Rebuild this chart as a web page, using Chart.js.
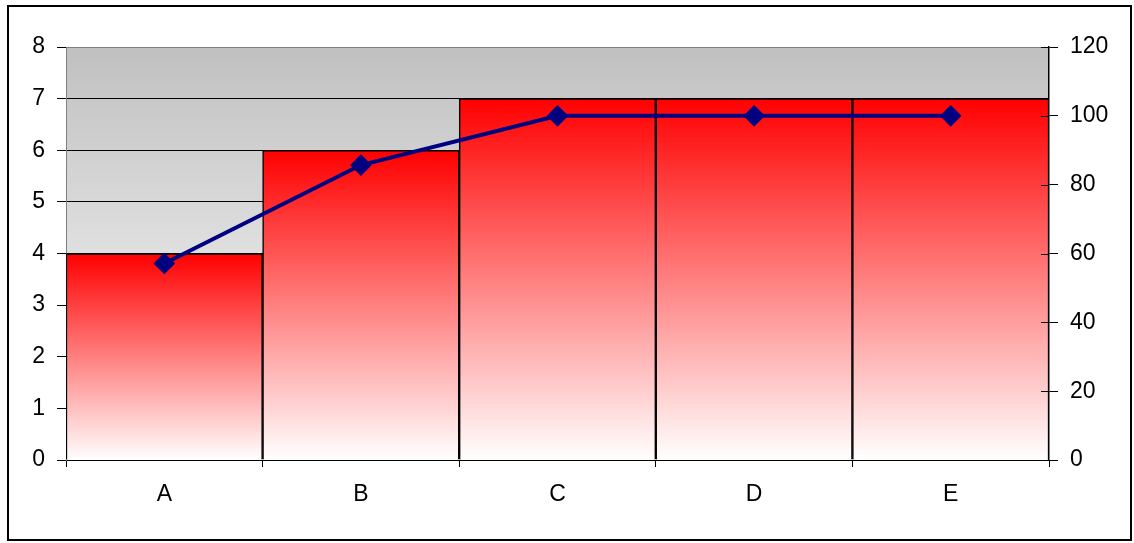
<!DOCTYPE html>
<html>
<head>
<meta charset="utf-8">
<script src="https://cdn.jsdelivr.net/npm/chart.js@4.4.1/dist/chart.umd.min.js"></script>
<style>
  html, body { margin: 0; padding: 0; background: #fff; }
  #wrap { width: 1134px; height: 543px; }
</style>
</head>
<body>
<div id="wrap"><canvas id="js-chart-pareto" width="1134" height="543"></canvas></div>
<script>
// Chart data
const categories = ['A', 'B', 'C', 'D', 'E'];
const barValues = [4, 6, 7, 7, 7];
const lineValues = [57.1, 85.7, 100, 100, 100];
const leftTicks = [0, 1, 2, 3, 4, 5, 6, 7, 8];
const rightTicks = [0, 20, 40, 60, 80, 100, 120];

Chart.defaults.font.family = '"Liberation Sans", Arial, sans-serif';
Chart.defaults.font.size = 23;
Chart.defaults.color = '#000';

// background, plot gradient and outer frame
const frameBackground = {
  id: 'frameBackground',
  beforeDraw(chart) {
    const ctx = chart.ctx;
    const a = chart.chartArea;
    ctx.save();
    ctx.fillStyle = '#fff';
    ctx.fillRect(0, 0, chart.width, chart.height);
    let g = ctx.createLinearGradient(0, a.top, 0, a.bottom);
    g.addColorStop(0, '#c0c0c0');
    g.addColorStop(1, '#ffffff');
    ctx.fillStyle = g;
    ctx.fillRect(a.left, a.top, a.right - a.left, a.bottom - a.top);
    ctx.strokeStyle = '#000';
    ctx.lineWidth = 2;
    ctx.strokeRect(8, 6, 1123, 534);
    ctx.restore();
  },
  afterDatasetsDraw(chart) {
    // inner half of the right axis tick marks
    const ctx = chart.ctx;
    const y1 = chart.scales.y1;
    const a = chart.chartArea;
    ctx.save();
    ctx.strokeStyle = '#000';
    ctx.lineWidth = 1;
    y1.ticks.forEach(t => {
      let py = Math.round(y1.getPixelForValue(t.value)) + 0.5;
      ctx.beginPath();
      ctx.moveTo(a.right - 8, py);
      ctx.lineTo(a.right, py);
      ctx.stroke();
    });
    ctx.restore();
  }
};

function barGradient(context) {
  const chart = context.chart;
  if (!chart.chartArea) return '#ff0000';
  const y = chart.scales.y;
  const top = y.getPixelForValue(context.raw);
  const bottom = y.getPixelForValue(0);
  let g = chart.ctx.createLinearGradient(0, top, 0, bottom);
  g.addColorStop(0, '#ff0000');
  g.addColorStop(1, '#ffffff');
  return g;
}

let chartData = {
  labels: categories,
  datasets: [
    {
      type: 'line',
      label: 'Cumulative %',
      yAxisID: 'y1',
      order: 0,
      data: lineValues,
      borderColor: '#000080',
      backgroundColor: '#000080',
      borderWidth: 4,
      pointStyle: 'rectRot',
      pointRadius: 8,
      pointBackgroundColor: '#000080',
      pointBorderColor: '#000080',
      tension: 0
    },
    {
      type: 'bar',
      label: 'Count',
      yAxisID: 'y',
      order: 1,
      data: barValues,
      backgroundColor: barGradient,
      borderColor: '#000',
      borderWidth: 1.5,
      categoryPercentage: 1,
      barPercentage: 1
    }
  ]
};

let chartOptions = {
  responsive: false,
  animation: false,
  layout: { padding: { top: 47, left: 0, right: 0, bottom: 0 } },
  plugins: {
    legend: { display: false },
    tooltip: { enabled: false }
  },
  scales: {
    x: {
      offset: true,
      grid: { offset: true, drawOnChartArea: false, color: '#000', tickLength: 7 },
      border: { color: '#000', width: 1 },
      ticks: { padding: 14 },
      afterFit(scale) { scale.height = 83; }
    },
    y: {
      position: 'left',
      min: 0,
      max: 8,
      afterBuildTicks(scale) { scale.ticks = leftTicks.map(v => ({ value: v })); },
      grid: {
        color: ctx => (ctx.tick && ctx.tick.value === 8 ? '#808080' : '#000'),
        tickColor: '#000',
        tickLength: 9
      },
      border: { color: '#808080', width: 1 },
      ticks: { padding: 12 },
      afterFit(scale) { scale.width = 66; }
    },
    y1: {
      position: 'right',
      min: 0,
      max: 120,
      afterBuildTicks(scale) { scale.ticks = rightTicks.map(v => ({ value: v })); },
      grid: { drawOnChartArea: false, color: '#000', tickLength: 9 },
      border: { color: '#000', width: 1.5 },
      ticks: { padding: 12 },
      afterFit(scale) { scale.width = 85; }
    }
  }
};

let chartCon = document.getElementById('js-chart-pareto');
let paretoChart = new Chart(chartCon, {
  data: chartData,
  options: chartOptions,
  plugins: [frameBackground]
});
</script>
</body>
</html>
